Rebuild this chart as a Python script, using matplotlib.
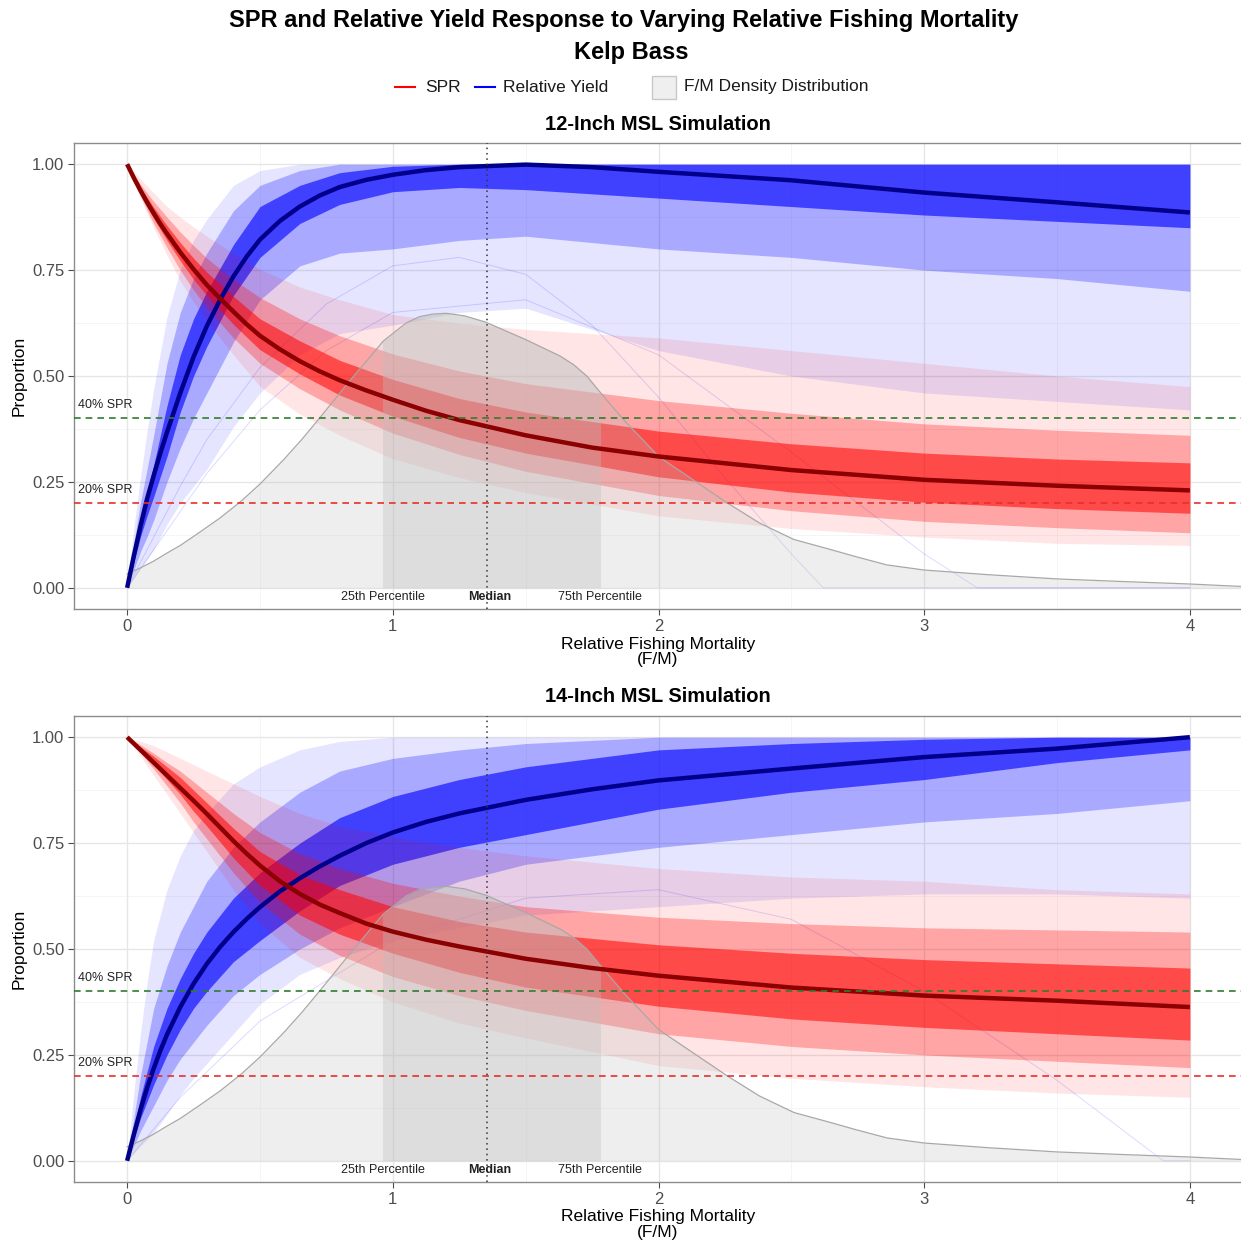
import numpy as np
import matplotlib
matplotlib.use("Agg")
import matplotlib.pyplot as plt
from matplotlib.lines import Line2D
from matplotlib.patches import Rectangle

plt.rcParams['font.family'] = ['Liberation Sans', 'DejaVu Sans']

# ---------------- data ----------------
# grid for the spread bands of the simulated runs
F_GRID = [0, 0.025, 0.05, 0.075, 0.1, 0.15, 0.2, 0.25, 0.3, 0.4, 0.5, 0.65, 0.8, 1.0, 1.25, 1.5, 2.0, 2.5, 3.0, 3.5, 4.0]
# grid for the median curves
MED_GRID = [0, 0.025, 0.05, 0.075, 0.1, 0.125, 0.15, 0.2, 0.25, 0.3, 0.35, 0.4, 0.45, 0.5, 0.575, 0.65,
            0.725, 0.8, 0.9, 1.0, 1.125, 1.25, 1.5, 1.75, 2.0, 2.5, 3.0, 3.5, 4.0]

# 12-inch MSL: SPR
spr12_med     = [1.0, 0.968, 0.938, 0.91, 0.884, 0.859, 0.836, 0.792, 0.752, 0.715, 0.683, 0.652, 0.622, 0.595, 0.563,
                 0.535, 0.511, 0.49, 0.466, 0.444, 0.418, 0.396, 0.36, 0.331, 0.31, 0.278, 0.255, 0.241, 0.230]
spr12_core_lo = [1, .965, .932, .90, .872, .82, .772, .728, .69, .622, .562, .505, .455, .405, .355, .318, .262, .226, .202, .187, .176]
spr12_core_hi = [1, .972, .946, .922, .898, .855, .815, .778, .745, .688, .635, .583, .537, .492, .447, .415, .37, .34, .318, .304, .295]
spr12_mid_lo  = [1, .962, .926, .892, .86, .803, .75, .703, .662, .59, .53, .47, .42, .365, .315, .275, .218, .182, .157, .142, .13]
spr12_mid_hi  = [1, .976, .953, .932, .912, .875, .84, .808, .778, .728, .685, .635, .595, .552, .512, .482, .442, .412, .387, .372, .36]
spr12_out_lo  = [1, .958, .92, .885, .85, .785, .725, .675, .63, .55, .475, .41, .36, .305, .26, .225, .17, .14, .12, .105, .10]
spr12_out_hi  = [1, .982, .965, .948, .932, .90, .875, .852, .83, .79, .752, .71, .68, .645, .625, .61, .59, .56, .53, .50, .475]

# 12-inch MSL: relative yield
yld12_med     = [0, 0.075, 0.145, 0.21, 0.265, 0.318, 0.367, 0.46, 0.545, 0.618, 0.68, 0.735, 0.782, 0.822, 0.866,
                 0.90, 0.926, 0.946, 0.963, 0.975, 0.986, 0.993, 0.999, 0.993, 0.982, 0.962, 0.933, 0.91, 0.886]
yld12_core_lo = [0, .06, .12, .17, .215, .31, .415, .50, .57, .69, .78, .86, .905, .935, .945, .94, .92, .90, .88, .865, .85]
yld12_core_hi = [0, .085, .16, .225, .29, .43, .55, .635, .70, .81, .90, .95, .98, .995, 1, 1, 1, 1, 1, 1, 1]
yld12_mid_lo  = [0, .042, .085, .12, .16, .25, .33, .40, .46, .58, .68, .76, .79, .80, .82, .83, .80, .78, .75, .73, .70]
yld12_mid_hi  = [0, .105, .20, .28, .36, .53, .65, .73, .79, .89, .95, .985, 1, 1, 1, 1, 1, 1, 1, 1, 1]
yld12_out_lo  = [0, .022, .045, .067, .09, .15, .20, .24, .28, .38, .46, .55, .60, .62, .65, .66, .56, .50, .46, .44, .42]
yld12_out_hi  = [0, .14, .26, .37, .47, .64, .75, .82, .87, .95, .985, 1, 1, 1, 1, 1, 1, 1, 1, 1, 1]

# 12-inch: isolated yield runs that collapse to zero
drop12a_f = [0, 0.1, 0.2, 0.3, 0.5, 0.75, 1.0, 1.25, 1.5, 1.75, 2.0, 2.25, 2.5, 2.62, 3.0, 4.0]
drop12a_y = [0, 0.12, 0.24, 0.35, 0.52, 0.67, 0.76, 0.78, 0.74, 0.62, 0.45, 0.26, 0.08, 0.0, 0.0, 0.0]
drop12b_f = [0, 0.1, 0.2, 0.3, 0.5, 0.75, 1.0, 1.5, 2.0, 2.5, 3.0, 3.2, 4.0]
drop12b_y = [0, 0.09, 0.18, 0.27, 0.42, 0.56, 0.65, 0.68, 0.55, 0.32, 0.08, 0.0, 0.0]

# 14-inch MSL: SPR
spr14_med     = [1.0, 0.985, 0.97, 0.955, 0.94, 0.925, 0.91, 0.88, 0.85, 0.819, 0.787, 0.755, 0.725, 0.697, 0.66,
                 0.63, 0.605, 0.585, 0.56, 0.541, 0.522, 0.506, 0.477, 0.455, 0.437, 0.409, 0.39, 0.378, 0.363]
spr14_core_lo = [1, .984, .968, .952, .935, .90, .865, .825, .79, .715, .65, .58, .535, .49, .445, .41, .365, .335, .315, .30, .285]
spr14_core_hi = [1, .989, .977, .966, .955, .93, .905, .875, .845, .785, .73, .675, .64, .60, .565, .54, .51, .49, .475, .465, .455]
spr14_mid_lo  = [1, .982, .963, .944, .925, .885, .845, .80, .76, .68, .61, .535, .485, .435, .39, .355, .30, .27, .25, .235, .22]
spr14_mid_hi  = [1, .991, .982, .972, .962, .94, .92, .895, .87, .82, .775, .725, .69, .655, .625, .60, .575, .56, .55, .545, .54]
spr14_out_lo  = [1, .978, .955, .932, .91, .865, .82, .775, .73, .64, .56, .48, .43, .375, .325, .29, .225, .195, .175, .16, .15]
spr14_out_hi  = [1, .995, .99, .985, .98, .965, .95, .935, .92, .89, .86, .82, .79, .765, .74, .72, .69, .67, .66, .64, .63]

# 14-inch MSL: relative yield
yld14_med     = [0, 0.062, 0.12, 0.172, 0.218, 0.26, 0.298, 0.363, 0.418, 0.465, 0.505, 0.54, 0.571, 0.599, 0.636,
                 0.667, 0.695, 0.72, 0.75, 0.775, 0.80, 0.82, 0.852, 0.877, 0.898, 0.926, 0.953, 0.973, 1.0]
yld14_core_lo = [0, .05, .10, .14, .18, .25, .31, .36, .40, .47, .52, .59, .65, .70, .74, .77, .83, .87, .90, .94, .97]
yld14_core_hi = [0, .075, .15, .21, .27, .36, .43, .49, .54, .62, .68, .75, .81, .86, .90, .93, .97, .985, .995, 1, 1]
yld14_mid_lo  = [0, .035, .07, .10, .13, .19, .24, .28, .32, .39, .44, .50, .55, .60, .66, .70, .74, .77, .80, .82, .85]
yld14_mid_hi  = [0, .10, .20, .28, .36, .46, .54, .60, .66, .74, .80, .87, .92, .95, .97, .985, 1, 1, 1, 1, 1]
yld14_out_lo  = [0, .018, .035, .05, .065, .11, .155, .195, .23, .30, .37, .44, .48, .52, .55, .58, .60, .62, .63, .63, .62]
yld14_out_hi  = [0, .16, .30, .42, .52, .64, .72, .78, .82, .89, .93, .97, .99, 1, 1, 1, 1, 1, 1, 1, 1]

drop14_f = [0, 0.2, 0.5, 1.0, 1.5, 2.0, 2.5, 3.0, 3.5, 3.9, 4.0]
drop14_y = [0, 0.15, 0.33, 0.52, 0.62, 0.64, 0.57, 0.40, 0.19, 0.0, 0.0]

# F/M density distribution (scaled), same in both panels
dens_x = [0, 0.05, 0.1, 0.15, 0.2, 0.275, 0.35, 0.43, 0.5, 0.59, 0.66, 0.73, 0.84, 0.965, 1.05, 1.1, 1.15, 1.2, 1.27,
          1.35, 1.5, 1.63, 1.68, 1.73, 1.78, 1.83, 1.88, 1.94, 2.0, 2.13, 2.26, 2.38, 2.51, 2.65, 2.74, 2.86, 3.0,
          3.24, 3.5, 3.74, 4.0, 4.2]
dens_y = [0.033, 0.047, 0.063, 0.082, 0.10, 0.132, 0.165, 0.205, 0.245, 0.303, 0.352, 0.405, 0.49, 0.583, 0.625, 0.64,
          0.646, 0.648, 0.642, 0.627, 0.586, 0.547, 0.527, 0.500, 0.462, 0.425, 0.389, 0.35, 0.31, 0.255, 0.200,
          0.153, 0.114, 0.090, 0.074, 0.054, 0.042, 0.031, 0.021, 0.015, 0.009, 0.003]
q25, q50, q75 = 0.963, 1.355, 1.778

ref_levels = [0.4, 0.2]
ref_labels = ["40% SPR", "20% SPR"]
ref_colors = ["#2f7d2f", "#e8302a"]

x_ticks = [0, 1, 2, 3, 4]
y_ticks = [0.0, 0.25, 0.5, 0.75, 1.0]
y_tick_labels = ["0.00", "0.25", "0.50", "0.75", "1.00"]

panel_titles = ["12-Inch MSL Simulation", "14-Inch MSL Simulation"]

# ---------------- figure ----------------
W, H = 1241, 1245
fig = plt.figure(figsize=(W / 100, H / 100), dpi=100)
fig.patch.set_facecolor("white")


def fx(px):
    return px / W


def fy(py):
    return 1 - py / H


def draw_bundle(ax, color, bands, alphas):
    for (lo, hi), a in zip(bands, alphas):
        ax.fill_between(F_GRID, lo, hi, color=color, alpha=a, lw=0, zorder=2)


def draw_panel(ax, spr, yld, drops):
    ax.set_xlim(-0.2, 4.2)
    ax.set_ylim(-0.05, 1.05)
    ax.set_facecolor("white")
    for v in np.arange(0.5, 4.2, 1.0):
        ax.axvline(v, color="#f4f4f4", lw=0.6, zorder=0)
    for v in [0.125, 0.375, 0.625, 0.875]:
        ax.axhline(v, color="#f4f4f4", lw=0.6, zorder=0)
    for v in x_ticks:
        ax.axvline(v, color="#e6e6e6", lw=1.0, zorder=0)
    for v in y_ticks:
        ax.axhline(v, color="#e6e6e6", lw=1.0, zorder=0)

    yb_med, yb_bands = yld
    draw_bundle(ax, "#0000ff", yb_bands, [0.10, 0.26, 0.62])
    for fxs, fys in drops:
        ax.plot(fxs, fys, color="#0000ff", alpha=0.14, lw=0.7, zorder=2)
    sb_med, sb_bands = spr
    draw_bundle(ax, "#ff0000", sb_bands, [0.10, 0.28, 0.55])

    # density
    ax.fill_between(dens_x, 0, dens_y, color="#bebebe", alpha=0.25, lw=0, zorder=3)
    poly = ax.fill_between(dens_x, 0, dens_y, color="#bebebe", alpha=0.35, lw=0, zorder=3)
    poly.set_clip_path(Rectangle((q25, -0.1), q75 - q25, 1.3, transform=ax.transData))
    ax.plot(dens_x, dens_y, color="#a8a8a8", lw=0.9, zorder=3)

    # medians
    ax.plot(MED_GRID, yb_med, color="#00008b", lw=3.2, zorder=5, solid_capstyle="butt")
    ax.plot(MED_GRID, sb_med, color="#8b0000", lw=3.2, zorder=5, solid_capstyle="butt")

    for lv, lb, c in zip(ref_levels, ref_labels, ref_colors):
        ax.axhline(lv, color=c, lw=1.2, ls=(0, (4, 3)), zorder=6)
        ax.text(-0.185, lv + 0.032, lb, fontsize=9, color="#222222", ha="left", va="center", zorder=7)
    ax.axvline(q50, color="#333333", lw=1.1, ls=(0, (1, 2.5)), zorder=6)

    ax.text(q25, -0.021, "25th Percentile", fontsize=9, ha="center", va="center", color="#222222", zorder=7)
    ax.text(q50 + 0.01, -0.021, "Median", fontsize=9, ha="center", va="center", color="#222222",
            fontweight="bold", zorder=7)
    ax.text(q75, -0.021, "75th Percentile", fontsize=9, ha="center", va="center", color="#222222", zorder=7)

    ax.set_xticks(x_ticks)
    ax.set_xticklabels([str(t) for t in x_ticks])
    ax.set_yticks(y_ticks)
    ax.set_yticklabels(y_tick_labels)
    ax.tick_params(length=4, width=0.8, color="#4d4d4d", labelcolor="#4d4d4d", labelsize=12, pad=3)
    for s in ax.spines.values():
        s.set_color("#8c8c8c")
        s.set_linewidth(1.0)


def bands(core_lo, core_hi, mid_lo, mid_hi, out_lo, out_hi):
    return [(out_lo, out_hi), (mid_lo, mid_hi), (core_lo, core_hi)]


ax1 = fig.add_axes([fx(74), fy(609), fx(1243 - 74), (609 - 143) / H])
ax2 = fig.add_axes([fx(74), fy(1182), fx(1243 - 74), (1182 - 716) / H])

draw_panel(ax1,
           (spr12_med, bands(spr12_core_lo, spr12_core_hi, spr12_mid_lo, spr12_mid_hi, spr12_out_lo, spr12_out_hi)),
           (yld12_med, bands(yld12_core_lo, yld12_core_hi, yld12_mid_lo, yld12_mid_hi, yld12_out_lo, yld12_out_hi)),
           [(drop12a_f, drop12a_y), (drop12b_f, drop12b_y)])
draw_panel(ax2,
           (spr14_med, bands(spr14_core_lo, spr14_core_hi, spr14_mid_lo, spr14_mid_hi, spr14_out_lo, spr14_out_hi)),
           (yld14_med, bands(yld14_core_lo, yld14_core_hi, yld14_mid_lo, yld14_mid_hi, yld14_out_lo, yld14_out_hi)),
           [(drop14_f, drop14_y)])

# titles
fig.text(fx(624), fy(20), "SPR and Relative Yield Response to Varying Relative Fishing Mortality",
         ha="center", va="center", fontsize=17, fontweight="bold")
fig.text(fx(631), fy(53), "Kelp Bass", ha="center", va="center", fontsize=17, fontweight="bold")
fig.text(fx(658), fy(124), panel_titles[0], ha="center", va="center", fontsize=14.5, fontweight="bold")
fig.text(fx(658), fy(696), panel_titles[1], ha="center", va="center", fontsize=14.5, fontweight="bold")

# legend
ly = fy(87)
fig.add_artist(Line2D([fx(395), fx(415)], [ly, ly], color="#ff0000", lw=1.5))
fig.text(fx(425), ly, "SPR", ha="left", va="center", fontsize=12.5, color="#1a1a1a")
fig.add_artist(Line2D([fx(475), fx(495)], [ly, ly], color="#0000ff", lw=1.5))
fig.text(fx(503), ly, "Relative Yield", ha="left", va="center", fontsize=12.5, color="#1a1a1a")
fig.add_artist(Rectangle((fx(652), fy(99)), fx(24), 23 / H, transform=fig.transFigure,
                         facecolor="#efefef", edgecolor="#c8c8c8", lw=1.0))
fig.text(fx(684), ly, "F/M Density Distribution", ha="left", va="center", fontsize=12.5, color="#1a1a1a")

# axis titles
for yc in (652, 1224.5):
    fig.text(fx(658), fy(yc), "Relative Fishing Mortality\n(F/M)", ha="center", va="center",
             fontsize=12.5, linespacing=1.05, multialignment="center")
for yc in (376, 949):
    fig.text(fx(19), fy(yc), "Proportion", ha="center", va="center", fontsize=12.5, rotation=90)

fig.savefig("out.png", dpi=100, facecolor="white")
